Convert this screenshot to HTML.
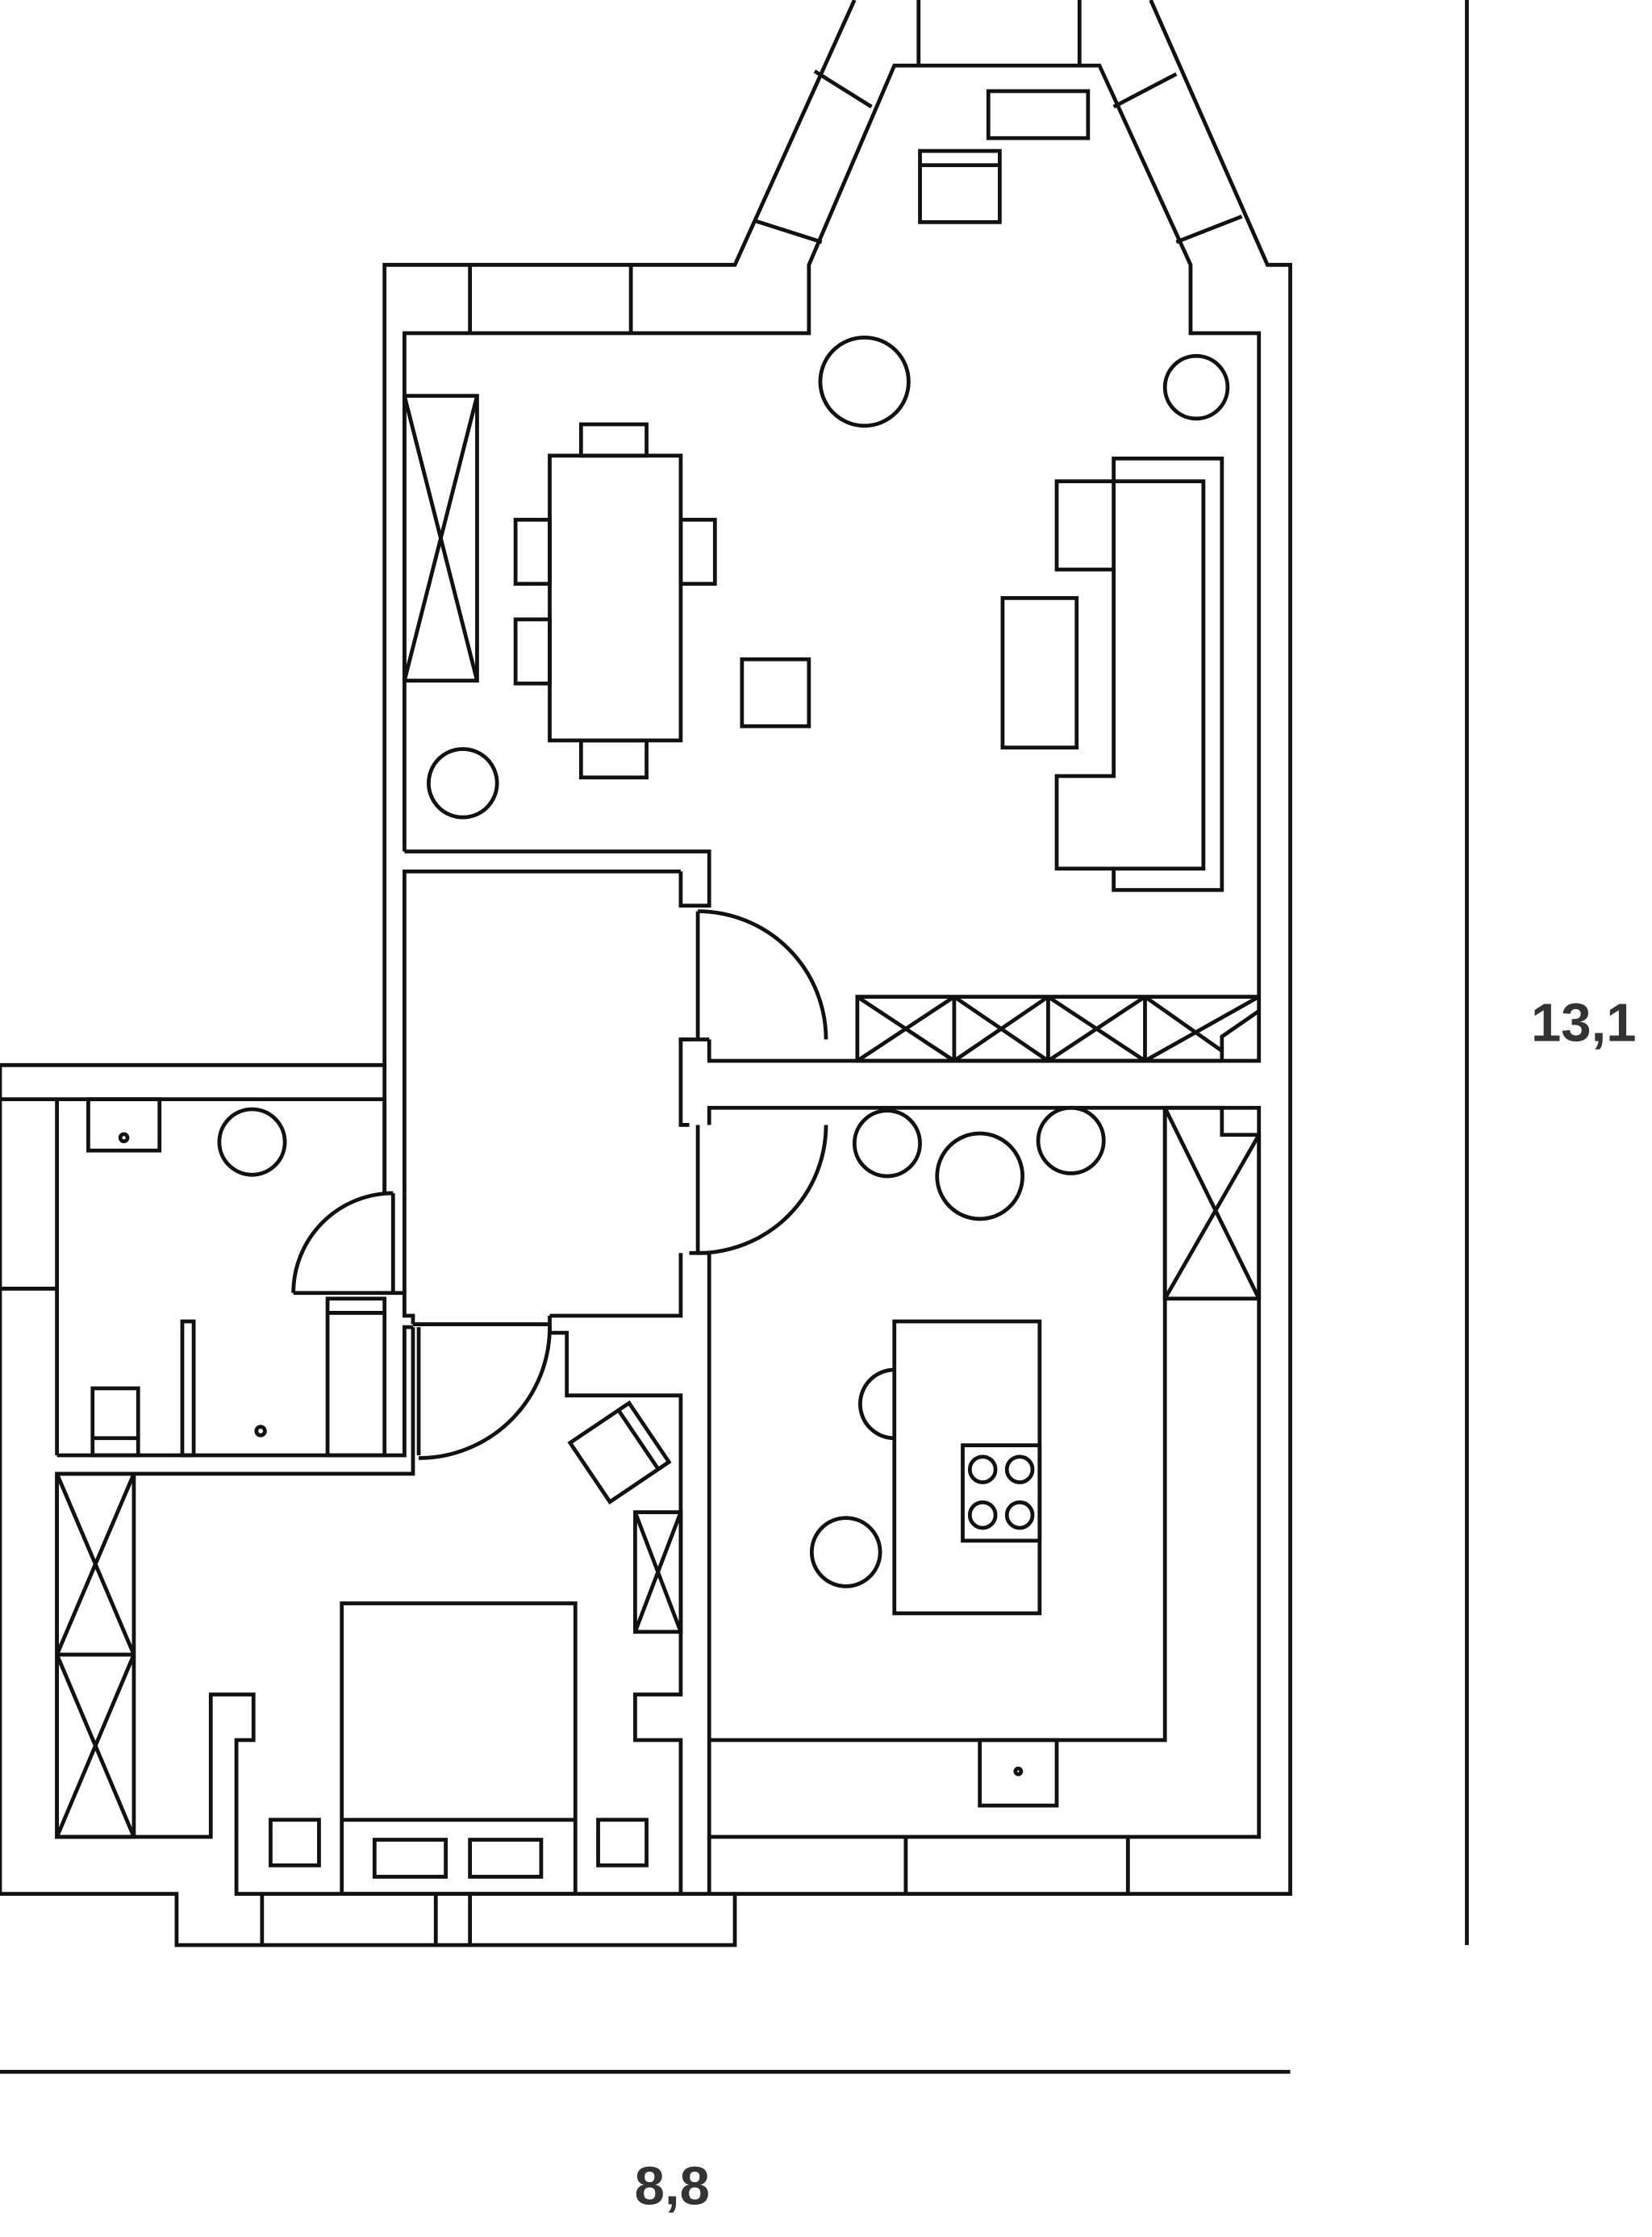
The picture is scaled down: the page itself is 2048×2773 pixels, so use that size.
<!DOCTYPE html>
<html><head><meta charset="utf-8"><style>
html,body{margin:0;padding:0;background:#fff}
svg{display:block}
</style></head><body>
<svg width="2048" height="2773" viewBox="0 0 1160 1571" preserveAspectRatio="none" xmlns="http://www.w3.org/2000/svg">
<g fill="none" stroke="#111" stroke-width="2.7" stroke-linejoin="miter">
<polyline points="0,748 270,748 270,186 516,186 600,0"/>
<polyline points="808,0 890,186 906,186 906,1330 516,1330 516,1366 124,1366 124,1330 0,1330 0,748"/>
<polyline points="284,598 284,234 568,234 568,186 628,46 772,46 836,186 836,234 884,234 884,700"/>
<line x1="645" y1="0" x2="645" y2="46"/><line x1="758" y1="0" x2="758" y2="46"/>
<line x1="572" y1="50" x2="612" y2="75"/><line x1="530" y1="155" x2="577" y2="170"/>
<line x1="782" y1="75" x2="826" y2="52"/><line x1="826" y1="170" x2="872" y2="152"/>
<line x1="330" y1="186" x2="330" y2="234"/><line x1="443" y1="186" x2="443" y2="234"/>
<polyline points="284,598 498,598 498,636 484,636"/>
<line x1="490" y1="640" x2="490" y2="730"/>
<path d="M490,640 A90,90 0 0 1 580,730"/>
<polyline points="478,612 284,612 284,838"/>
<polyline points="478,612 478,636 484,636"/>
<polyline points="484,730 478,730 478,790 484,790"/>
<polyline points="498,730 498,745 858,745"/>
<polyline points="478,730 498,730"/>
<rect x="602" y="700" width="282" height="45"/>
<line x1="670" y1="700" x2="670" y2="745"/><line x1="736" y1="700" x2="736" y2="745"/><line x1="804" y1="700" x2="804" y2="745"/>
<path d="M602,700 L670,745 M670,700 L602,745 M670,700 L736,745 M736,700 L670,745 M736,700 L804,745 M804,700 L736,745 M804,700 L858,738 M884,700 L804,745"/>
<polyline points="858,745 858,728 884,710"/>
<polyline points="498,790 498,778 858,778 858,797 884,797 884,1290 498,1290 498,880 484,880"/>
<line x1="490" y1="790" x2="490" y2="880"/>
<path d="M580,790 A90,90 0 0 1 490,880"/>
<polyline points="478,880 478,924 386,924"/>
<polyline points="498,1222 818,1222 818,778"/>
<rect x="818" y="778" width="66" height="134"/>
<path d="M818,778 L884,912 M884,797 L818,912"/>
<rect x="688" y="1222" width="54" height="46"/>
<circle cx="715" cy="1244" r="2"/>
<line x1="636" y1="1290" x2="636" y2="1330"/><line x1="792" y1="1290" x2="792" y2="1330"/>
<circle cx="623" cy="803" r="23"/><circle cx="688" cy="826" r="30"/><circle cx="752" cy="801" r="23"/>
<rect x="628" y="928" width="102" height="205"/>
<rect x="676" y="1015" width="54" height="67"/>
<circle cx="690" cy="1032" r="9"/><circle cx="716" cy="1032" r="9"/><circle cx="690" cy="1064" r="9"/><circle cx="716" cy="1064" r="9"/>
<path d="M628,962 A24,24 0 0 0 628,1010"/>
<circle cx="594" cy="1090" r="24"/>
<rect x="284" y="278" width="51" height="200"/><path d="M284,278 L335,478 M335,278 L284,478"/>
<rect x="386" y="320" width="92" height="200"/>
<rect x="408" y="298" width="46" height="22"/><rect x="408" y="520" width="46" height="26"/>
<rect x="362" y="365" width="24" height="45"/><rect x="362" y="435" width="24" height="45"/>
<rect x="478" y="365" width="24" height="45"/>
<rect x="521" y="463" width="47" height="47"/>
<circle cx="607" cy="268" r="31"/><circle cx="840" cy="272" r="22"/><circle cx="325" cy="550" r="24"/>
<polyline points="782,400 782,322 858,322 858,625 782,625 782,610"/>
<polygon points="742,338 845,338 845,610 742,610 742,545 782,545 782,400 742,400"/>
<rect x="704" y="420" width="52" height="105"/>
<rect x="694" y="64" width="70" height="33"/>
<rect x="646" y="106" width="56" height="50"/><line x1="646" y1="116" x2="702" y2="116"/>
<polyline points="270,748 270,838"/>
<polyline points="0,772 270,772 270,838 276,838"/>
<line x1="40" y1="772" x2="40" y2="1022"/><line x1="0" y1="905" x2="40" y2="905"/>
<line x1="276" y1="838" x2="276" y2="908"/>
<path d="M276,838 A70,70 0 0 0 206,908"/>
<polyline points="206,908 284,908 284,924 290,924 290,930"/>
<polyline points="284,838 284,908"/>
<rect x="230" y="912" width="40" height="110"/>
<polyline points="230,922 270,922"/>
<rect x="62" y="772" width="50" height="36"/><circle cx="87" cy="799" r="2.5"/>
<circle cx="177" cy="802" r="23"/>
<rect x="65" y="975" width="32" height="47"/><line x1="65" y1="1010" x2="97" y2="1010"/>
<rect x="128" y="928" width="8" height="94"/>
<circle cx="183" cy="1005" r="3"/>
<polyline points="40,1022 284,1022 284,932 290,932"/>
<polyline points="40,1035 290,1035 290,932"/>
<line x1="294" y1="932" x2="294" y2="1022"/>
<path d="M386,932 A92,92 0 0 1 294,1024"/>
<polyline points="290,930 386,930"/>
<polyline points="386,924 386,936 398,936 398,980 478,980 478,1190 446,1190 446,1222 478,1222 478,1330"/>
<polyline points="498,1290 498,1330"/>
<polyline points="40,1035 40,1290 148,1290 148,1190 178,1190 178,1222 166,1222 166,1330 516,1330"/>
<rect x="40" y="1035" width="54" height="255"/><line x1="40" y1="1162" x2="94" y2="1162"/>
<path d="M40,1035 L94,1162 M94,1035 L40,1162 M40,1162 L94,1290 M94,1162 L40,1290"/>
<rect x="446" y="1062" width="32" height="84"/><path d="M446,1062 L478,1146 M478,1062 L446,1146"/>
<g transform="translate(435,1020) rotate(-34)"><rect x="-25" y="-25" width="50" height="50"/><line x1="16" y1="-25" x2="16" y2="25"/></g>
<rect x="240" y="1126" width="164" height="204"/><line x1="240" y1="1278" x2="404" y2="1278"/>
<rect x="263" y="1292" width="50" height="26"/><rect x="330" y="1292" width="50" height="26"/>
<rect x="190" y="1278" width="34" height="32"/><rect x="420" y="1278" width="34" height="32"/>
<line x1="184" y1="1330" x2="184" y2="1366"/><line x1="306" y1="1330" x2="306" y2="1366"/><line x1="330" y1="1330" x2="330" y2="1366"/>
<line x1="1030" y1="0" x2="1030" y2="1366"/>
<line x1="0" y1="1455" x2="906" y2="1455"/>
</g>
<g font-family="Liberation Sans, sans-serif" font-weight="bold" font-size="38" fill="#333" text-anchor="middle">
<text x="1112" y="731">13,1</text>
<text x="472" y="1548">8,8</text>
</g>
</svg>
</body></html>
